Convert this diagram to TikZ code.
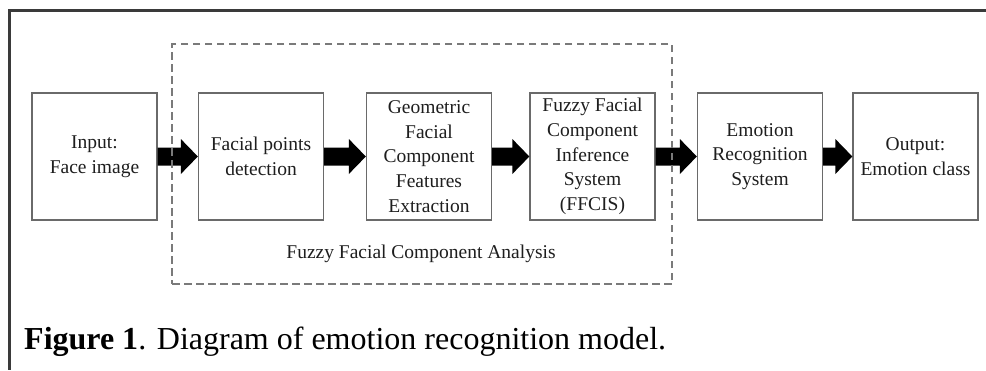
\documentclass[tikz,border=0pt]{standalone}
\usepackage{fontspec}
\setmainfont{Liberation Serif}
\usetikzlibrary{calc}
\definecolor{boxline}{HTML}{6A6A6A}
\definecolor{dashline}{HTML}{7A7A7A}
\definecolor{frameline}{HTML}{3A3A3A}
\definecolor{txt}{HTML}{1E1E1E}
\tikzset{
  stagebox/.style={draw=boxline, line width=1.3pt, minimum width=125pt, minimum height=127pt,
    align=center, text=txt, inner sep=0pt, font=\fontsize{19.5}{24.7}\selectfont},
  groupbox/.style={draw=dashline, line width=1.2pt, dash pattern=on 7.5pt off 4.5pt,
    minimum width=500pt, minimum height=240pt, inner sep=0pt},
}
\newcommand\blockarrow[2]{%
  \fill[black] ($(#1.east)+(0,9)$) -- ($(#2.west)+(-17,9)$) -- ($(#2.west)+(-17,17.5)$)
    -- (#2.west) -- ($(#2.west)+(-17,-17.5)$) -- ($(#2.west)+(-17,-9)$)
    -- ($(#1.east)+(0,-9)$) -- cycle;}
\begin{document}
\begin{tikzpicture}[x=1pt,y=-1pt]
\useasboundingbox (0,0) rectangle (986,370);
\fill[white] (0,0) rectangle (986,370);
% frame
\draw[frameline, line width=3pt] (986,10) -- (9.5,10) -- (9.5,370);
% stage boxes
\node[stagebox] (inp) at (94.5,156.5) {Input:\\Face image};
\node[stagebox] (fpd) at (261,156.5) {Facial points\\detection};
\node[stagebox] (gfc) at (429,156.5) {Geometric\\Facial\\Component\\Features\\Extraction};
\node[stagebox] (ffc) at (592.5,156.5) {Fuzzy Facial\\Component\\Inference\\System\\(FFCIS)};
\node[stagebox] (ers) at (760,156.5) {Emotion\\Recognition\\System};
\node[stagebox] (out) at (915.5,156.5) {Output:\\Emotion class};
% arrows
\blockarrow{inp}{fpd}
\blockarrow{fpd}{gfc}
\blockarrow{gfc}{ffc}
\blockarrow{ffc}{ers}
\blockarrow{ers}{out}
% group
\node[groupbox] (fca) at (422,164) {};
\node[anchor=base, text=txt, inner sep=0pt, font=\fontsize{19.5}{24.7}\selectfont] (fcalabel) at (421,258) {Fuzzy Facial Component Analysis};
% caption
\node[anchor=base west, text=black, inner sep=0pt, font=\fontsize{32}{38}\selectfont] (cap) at (24,349) {\textbf{Figure 1}. Diagram of emotion recognition model.};
\end{tikzpicture}
\end{document}
